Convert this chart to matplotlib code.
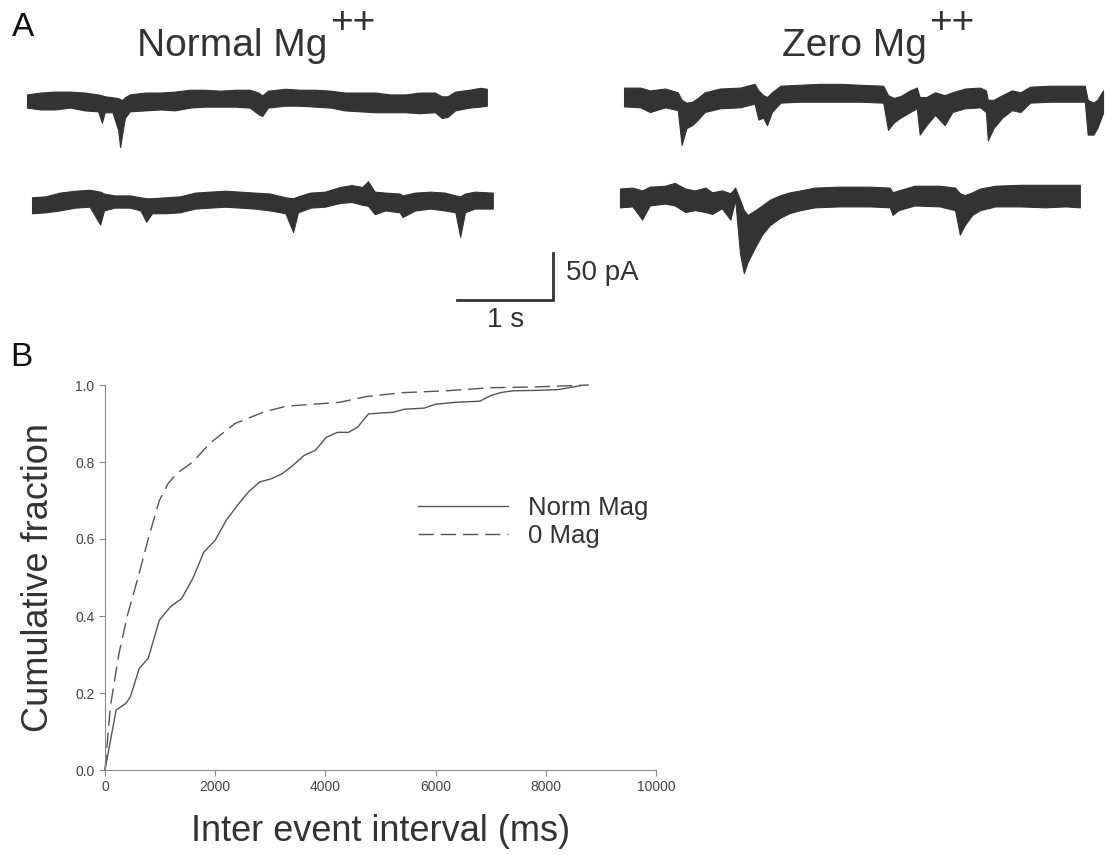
import numpy as np
import matplotlib
matplotlib.use('Agg')
import matplotlib.pyplot as plt

plt.rcParams['font.family'] = ['Liberation Sans', 'DejaVu Sans']

# ---- panel A: example current traces (time in s, current in pA, relative to trace start/baseline)
# each trace given as upper and lower edge of the noise band
norm1_t = [0.00, 0.14, 0.29, 0.45, 0.60, 0.74, 0.78, 0.81, 0.89, 0.95, 0.97, 0.99, 1.02, 1.07, 1.23, 1.39,
           1.54, 1.70, 1.85, 2.01, 2.17, 2.32, 2.41, 2.45, 2.51, 2.69, 2.84, 3.00, 3.16, 3.31, 3.47, 3.63,
           3.78, 3.94, 4.09, 4.25, 4.32, 4.38, 4.46, 4.61, 4.72, 4.79]
norm1_hi = [7, 9, 10, 10, 9, 7, 6, 5, 4, 3, 2, 1, 4, 7, 9, 9,
            10, 12, 12, 11, 12, 12, 9, 6, 11, 13, 12, 12, 11, 9, 9, 9,
            7, 7, 9, 9, 5, 5, 10, 12, 14, 13]
norm1_lo = [-7, -9, -9, -7, -10, -11, -23, -12, -12, -31, -49, -36, -18, -11, -10, -9,
            -10, -7, -6, -6, -6, -7, -14, -16, -7, -5, -5, -6, -7, -10, -11, -12,
            -12, -12, -13, -12, -18, -17, -10, -7, -6, -5]

norm2_t = [0.00, 0.14, 0.29, 0.45, 0.60, 0.71, 0.75, 0.86, 1.02, 1.13, 1.19, 1.25, 1.39, 1.54, 1.70, 1.85,
           2.01, 2.17, 2.32, 2.48, 2.64, 2.72, 2.77, 2.90, 3.05, 3.21, 3.33, 3.44, 3.50, 3.57, 3.68, 3.83,
           3.86, 3.99, 4.15, 4.30, 4.41, 4.46, 4.51, 4.61, 4.80]
norm2_hi = [5, 6, 10, 12, 13, 11, 9, 7, 7, 5, 4, 4, 5, 6, 10, 11,
            12, 11, 10, 9, 5, 4, 6, 10, 11, 16, 18, 16, 22, 11, 10, 9,
            7, 10, 11, 10, 7, 6, 9, 11, 10]
norm2_lo = [-12, -11, -9, -6, -5, -24, -9, -6, -6, -9, -21, -12, -12, -11, -7, -6,
            -5, -6, -7, -9, -12, -32, -11, -6, -5, -1, 0, -3, -4, -13, -9, -11,
            -16, -9, -7, -9, -11, -37, -11, -7, -7]

zero1_t = [0.00, 0.17, 0.27, 0.43, 0.56, 0.60, 0.65, 0.71, 0.77, 0.84, 1.00, 1.21, 1.36, 1.40, 1.45, 1.49,
           1.54, 1.63, 1.83, 2.04, 2.25, 2.46, 2.70, 2.75, 2.81, 2.88, 2.98, 3.05, 3.08, 3.15, 3.24, 3.34,
           3.42, 3.55, 3.71, 3.77, 3.79, 3.85, 3.94, 4.04, 4.13, 4.23, 4.44, 4.65, 4.80, 4.83, 4.89, 4.93,
           4.99]
zero1_hi = [10, 10, 7, 9, 5, -3, -6, -5, -1, 5, 9, 10, 14, 7, 2, 0,
            5, 12, 13, 14, 14, 13, 12, 2, -1, 1, 7, 10, 0, 0, 5, 2,
            5, 9, 10, 7, -3, -3, 2, 7, 5, 11, 12, 12, 12, -3, -6, -3,
            7]
zero1_lo = [-10, -11, -16, -11, -14, -51, -33, -30, -24, -16, -12, -11, -7, -24, -22, -30,
            -16, -6, -5, -5, -5, -5, -6, -35, -27, -22, -16, -12, -40, -30, -19, -30,
            -16, -12, -11, -16, -46, -33, -22, -14, -16, -6, -5, -5, -5, -40, -40, -33,
            -17]

zero2_t = [0.00, 0.13, 0.23, 0.31, 0.47, 0.57, 0.68, 0.78, 0.89, 0.96, 1.06, 1.15, 1.20, 1.25, 1.29, 1.33,
           1.41, 1.48, 1.56, 1.67, 1.77, 1.88, 2.03, 2.29, 2.60, 2.81, 2.84, 2.90, 3.07, 3.33, 3.49, 3.54,
           3.59, 3.67, 3.75, 3.91, 4.17, 4.43, 4.64, 4.79]
zero2_hi = [9, 10, 7, 11, 12, 15, 9, 7, 10, 5, 7, 4, 10, -3, -14, -19,
            -14, -9, -3, 2, 5, 7, 10, 11, 11, 10, 5, 7, 12, 12, 10, 4,
            2, 5, 9, 12, 13, 13, 13, 13]
zero2_lo = [-11, -10, -24, -9, -7, -9, -16, -14, -16, -18, -12, -24, -3, -60, -81, -69,
            -53, -40, -30, -22, -17, -14, -11, -10, -10, -11, -19, -14, -9, -10, -14, -40,
            -30, -19, -14, -10, -10, -11, -10, -11]

bar_time = 1.0   # s
bar_amp = 50.0   # pA

# ---- panel B: cumulative fraction of inter event intervals (ms)
norm_x = [0, 202, 380, 460, 622, 784, 986, 1188, 1390, 1592, 1794, 1996, 2198, 2400, 2602, 2804,
          3006, 3208, 3410, 3612, 3814, 4016, 4218, 4420, 4581, 4783, 4985, 5227, 5430, 5793, 5995,
          6359, 6804, 7006, 7208, 7410, 7814, 8218, 8622]
norm_y = [0, 0.156, 0.173, 0.19, 0.264, 0.29, 0.389, 0.424, 0.445, 0.497, 0.566, 0.596, 0.648, 0.687,
          0.722, 0.748, 0.756, 0.769, 0.791, 0.817, 0.83, 0.864, 0.877, 0.877, 0.89, 0.925, 0.927,
          0.929, 0.937, 0.94, 0.95, 0.955, 0.958, 0.973, 0.981, 0.985, 0.986, 0.988, 0.998]
zero_x = [0, 97, 137, 250, 404, 600, 784, 986, 1150, 1309, 1592, 1915, 2360, 2885, 3289, 4258,
          4743, 5389, 6198, 7006, 7814, 8783]
zero_y = [0, 0.164, 0.2, 0.3, 0.4, 0.5, 0.6, 0.7, 0.745, 0.771, 0.8, 0.85, 0.9, 0.93, 0.945, 0.955,
          0.97, 0.98, 0.985, 0.993, 0.995, 1.0]
labels = ['Norm Mag', '0 Mag']

W, H = 1105, 855
fig = plt.figure(figsize=(W / 100, H / 100), dpi=100)

# panel A axes in seconds / pA (96 px per s, 47 px per 50 pA)
axA = fig.add_axes([0, 1 - 330 / H, 1, 330 / H])
axA.set_xlim(0, W / 96)
axA.set_ylim(0, 330 * 50 / 47)
axA.axis('off')

def px2s(px):
    return px / 96

def py2pa(py):
    return (330 - py) * 50 / 47

traces = [(norm1_t, norm1_hi, norm1_lo, 27, 101),
          (norm2_t, norm2_hi, norm2_lo, 32, 202),
          (zero1_t, zero1_hi, zero1_lo, 624, 97),
          (zero2_t, zero2_hi, zero2_lo, 620, 197)]
trace_col = '#333333'
for t, hi, lo, x0, y0 in traces:
    t = np.array(t) + px2s(x0)
    hi = np.array(hi) + py2pa(y0)
    lo = np.array(lo) + py2pa(y0)
    axA.fill_between(t, lo, hi, color=trace_col, lw=0.8)

# scale bar
sb_x = px2s(553)
sb_y = py2pa(300)
axA.plot([sb_x - bar_time, sb_x, sb_x], [sb_y, sb_y, sb_y + bar_amp], color=trace_col, lw=2,
         solid_joinstyle='miter')
axA.text(px2s(566), py2pa(273), '50 pA', fontsize=20, color=trace_col, va='center', ha='left')
axA.text(px2s(506), py2pa(320), '1 s', fontsize=20, color=trace_col, va='center', ha='center')

# titles with superscript ++
tcol = '#333333'
fig.text(137 / W, 1 - 56 / H, 'Normal Mg', fontsize=28, color=tcol, va='baseline')
fig.text(330 / W, 1 - 33 / H, '++', fontsize=28, color=tcol, va='baseline')
fig.text(782 / W, 1 - 56 / H, 'Zero Mg', fontsize=28, color=tcol, va='baseline')
fig.text(929 / W, 1 - 33 / H, '++', fontsize=28, color=tcol, va='baseline')

fig.text(12 / W, 1 - 28 / H, 'A', fontsize=24, color='#111111', va='center')
fig.text(10 / W, 1 - 357 / H, 'B', fontsize=24, color='#111111', va='center')

# panel B
axB = fig.add_axes([105 / W, 85 / H, 551 / W, 385 / H])
line_col = '#555555'
axB.plot(norm_x, norm_y, color=line_col, lw=1.0, label=labels[0], clip_on=False)
axB.plot(zero_x, zero_y, color=line_col, lw=1.0, dashes=(11, 5), label=labels[1], clip_on=False)
axB.set_xlim(0, 10000)
axB.set_ylim(0, 1.0)
axB.set_xticks(np.arange(0, 10001, 2000))
axB.set_yticks(np.arange(0, 1.01, 0.2))
axB.set_yticklabels(['%.1f' % v for v in np.arange(0, 1.01, 0.2)])
for s in ['top', 'right']:
    axB.spines[s].set_visible(False)
for s in ['left', 'bottom']:
    axB.spines[s].set_color('#888888')
    axB.spines[s].set_linewidth(0.8)
axB.tick_params(direction='out', length=4, width=0.8, color='#888888', labelcolor='#444444',
                labelsize=10)
for lab in axB.get_xticklabels() + axB.get_yticklabels():
    lab.set_family(['Liberation Sans Narrow', 'Liberation Sans'])
axB.set_xlabel('Inter event interval (ms)', fontsize=26, color='#333333', labelpad=14)
axB.set_ylabel('Cumulative fraction', fontsize=26, color='#333333', labelpad=14)

axB.legend(loc='upper left', bbox_to_anchor=((418 - 105) / 551, (770 - 496) / 385), frameon=False,
           fontsize=18.5, handlelength=3.5, handletextpad=0.8, labelspacing=0.15, borderpad=0,
           borderaxespad=0, labelcolor='#333333')

fig.savefig('out.png', dpi=100)
